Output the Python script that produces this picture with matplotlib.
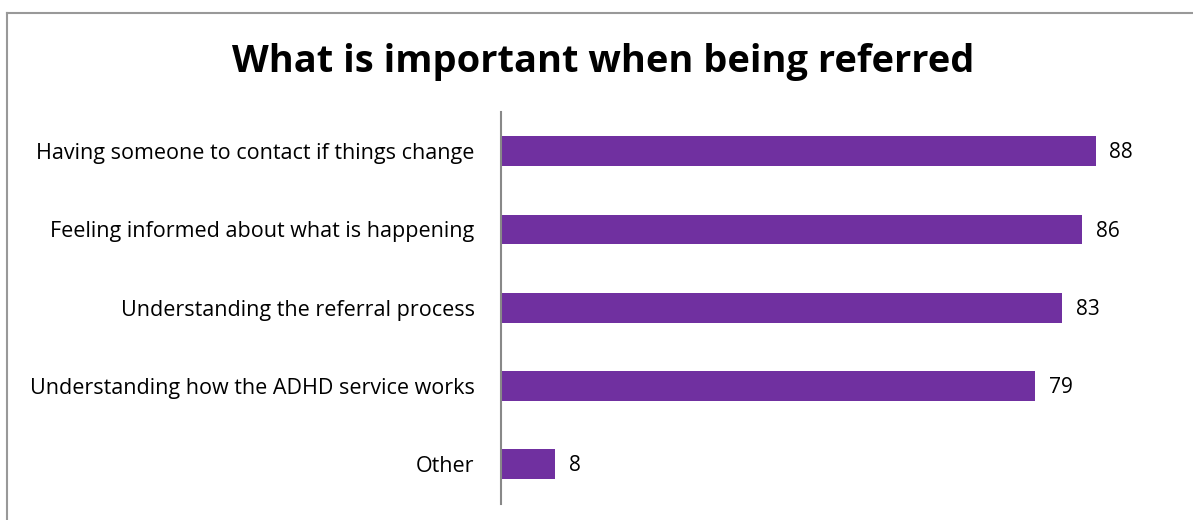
import matplotlib.pyplot as plt
from matplotlib.lines import Line2D

plt.rcParams['font.family'] = ['Open Sans', 'DejaVu Sans']

categories = ["Having someone to contact if things change",
              "Feeling informed about what is happening",
              "Understanding the referral process",
              "Understanding how the ADHD service works",
              "Other"]
values = [88, 86, 83, 79, 8]

purple = "#7030A0"

fig = plt.figure(figsize=(11.93, 5.2), dpi=100)
ax = fig.add_axes([0.42, 0.0317, 0.5666, 0.7529])

pos = list(range(len(categories)))
ax.barh(pos, values, height=0.38, color=purple)
ax.set_ylim(len(categories) - 0.5, -0.5)
ax.set_xlim(0, 100)

for p, v in zip(pos, values):
    ax.text(v + 2.0, p + 0.02, str(v), va="center", ha="left", fontsize=15)

ax.set_yticks(pos)
ax.set_yticklabels(categories, fontsize=15.5)
ax.tick_params(axis="y", length=0, pad=19)
ax.set_xticks([])
for s in ["top", "right", "bottom"]:
    ax.spines[s].set_visible(False)
ax.spines["left"].set_color("#888888")
ax.spines["left"].set_linewidth(1.5)

fig.text(0.506, 0.88, "What is important when being referred",
         ha="center", va="center", fontsize=27.4, fontweight="bold")

# chart frame (top and left edges fall inside the image)
fig.add_artist(Line2D([7 / 1193, 1.0], [1 - 13 / 520, 1 - 13 / 520],
                      transform=fig.transFigure, color="#999999", lw=1.5))
fig.add_artist(Line2D([7 / 1193, 7 / 1193], [0, 1 - 13 / 520],
                      transform=fig.transFigure, color="#999999", lw=1.5))

plt.savefig("out.png", dpi=100)
